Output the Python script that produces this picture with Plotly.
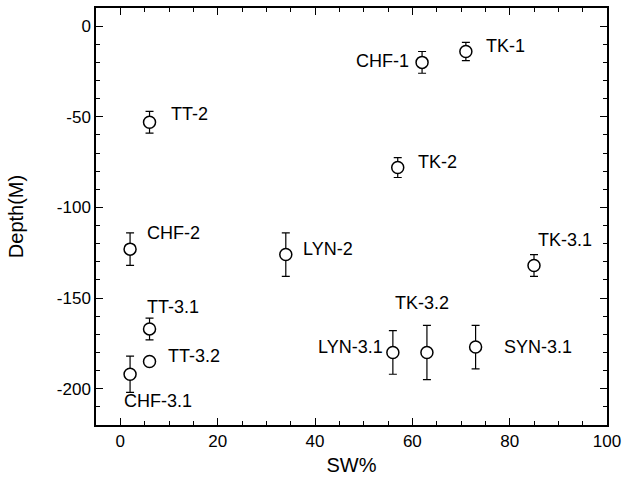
import plotly.graph_objects as go

names = ["TT-2", "CHF-2", "LYN-2", "TT-3.1", "TT-3.2", "CHF-3.1", "CHF-1",
         "TK-1", "TK-2", "TK-3.1", "LYN-3.1", "TK-3.2", "SYN-3.1"]
sw = [6, 2, 34, 6, 6, 2, 62, 71, 57, 85, 56, 63, 73]
depth = [-53, -123, -126, -167, -185, -192, -20, -14, -78, -132, -180, -180, -177]
err = [6, 9, 12, 6, 0, 10, 6, 5, 5.5, 6, 12, 15, 12]

x_ticks = [0, 20, 40, 60, 80, 100]
x_tick_text = ["0", "20", "40", "60", "80", "100"]
y_ticks = [0, -50, -100, -150, -200]
y_tick_text = ["0", "-50", "-100", "-150", "-200"]

# label anchor positions (data units) and alignment
lab_x = [10.1, 5.0, 37.2, 5.0, 9.3, 0.4, 59.7, 74.8, 60.7, 91.3, 54.3, 62.0, 78.5]
lab_y = [-48.6, -114, -123, -154.7, -182, -206.6, -19, -11, -75, -117.7, -177, -152.5, -177]
lab_anchor = ["left", "left", "left", "left", "left", "left", "right",
              "left", "left", "center", "right", "center", "left"]

FONT = "Liberation Sans, Arial, Helvetica, sans-serif"

fig = go.Figure()
fig.add_trace(go.Scatter(
    x=sw, y=depth, mode="markers",
    marker=dict(symbol="circle", size=12, color="white",
                line=dict(color="black", width=1.5)),
    error_y=dict(type="data", array=err, visible=True, color="black",
                 thickness=1.2, width=4),
    showlegend=False, hoverinfo="skip"))

for t, x, y, a in zip(names, lab_x, lab_y, lab_anchor):
    fig.add_annotation(x=x, y=y, text=t, showarrow=False, xanchor=a,
                       yanchor="middle", font=dict(family=FONT, size=18, color="black"))

axis_common = dict(showline=True, linecolor="black", linewidth=1.5, mirror="ticks",
                   ticks="inside", ticklen=7, tickwidth=1.2, tickcolor="black",
                   showgrid=False, zeroline=False, automargin=False,
                   tickfont=dict(family=FONT, size=17, color="black"))

fig.update_xaxes(range=[-5, 100], tickvals=x_ticks, ticktext=x_tick_text,
                 minor=dict(ticks="inside", ticklen=4, dtick=5, tick0=0, tickcolor="black", tickwidth=1),
                 title=dict(text="SW%", font=dict(family=FONT, size=20, color="black"), standoff=8),
                 **axis_common)
fig.update_yaxes(range=[-220, 10], tickvals=y_ticks, ticktext=y_tick_text,
                 minor=dict(ticks="inside", ticklen=4, dtick=10, tick0=0, tickcolor="black", tickwidth=1),
                 title=dict(text="Depth(M)", font=dict(family=FONT, size=20, color="black"), standoff=28),
                 **axis_common)

fig.update_layout(width=624, height=482, margin=dict(l=96, r=17, t=8, b=57),
                  paper_bgcolor="white", plot_bgcolor="white")

fig.write_html("out.html", config={"displayModeBar": False},
               post_script="document.body.style.margin='0';document.body.style.overflow='hidden';")
